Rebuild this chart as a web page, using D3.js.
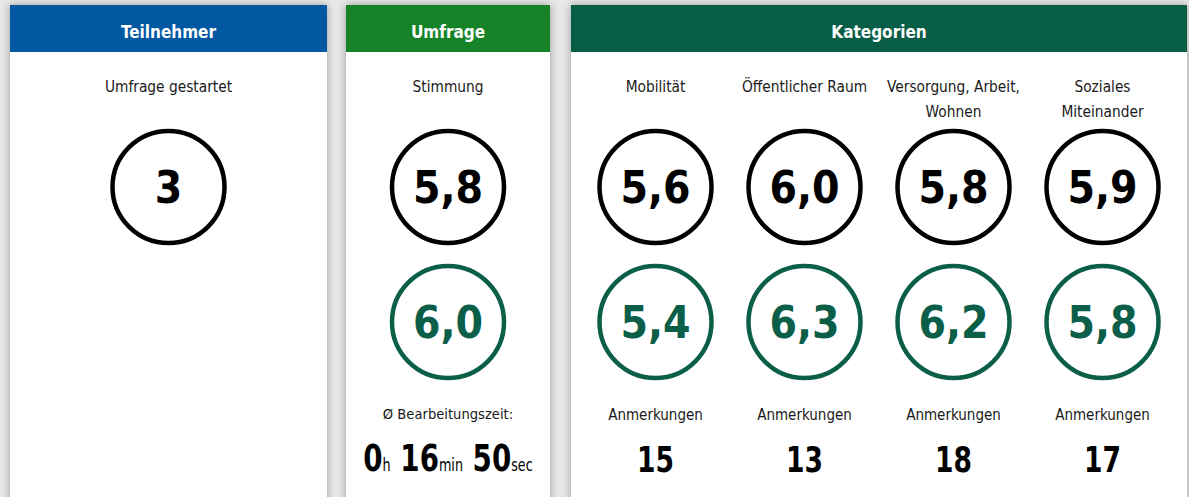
<!DOCTYPE html>
<html>
<head>
<meta charset="utf-8">
<script src="https://cdn.jsdelivr.net/npm/d3@7"></script>
<style>
  html, body { margin: 0; padding: 0; background: #e8e8e8; overflow: hidden; }
  svg { display: block; }
</style>
</head>
<body>
<svg id="chart" width="1189" height="497"></svg>
<script>
// ---------- data ----------
const panelTitles = ["Teilnehmer", "Umfrage", "Kategorien"];
const participantsLabel = "Umfrage gestartet";
const participants = 3;
const moodLabel = "Stimmung";
const moodValues = [5.8, 6.0];
const durationLabel = "Ø Bearbeitungszeit:";
const durationValues = [0, 16, 50];
const durationUnits = ["h", "min", "sec"];
const categories = ["Mobilität", "Öffentlicher Raum", "Versorgung, Arbeit, Wohnen", "Soziales Miteinander"];
const categoryLines = [["Mobilität"], ["Öffentlicher Raum"], ["Versorgung, Arbeit,", "Wohnen"], ["Soziales", "Miteinander"]];
const categoryScoresA = [5.6, 6.0, 5.8, 5.9];
const categoryScoresB = [5.4, 6.3, 6.2, 5.8];
const commentsLabel = "Anmerkungen";
const categoryComments = [15, 13, 18, 17];

// ---------- style ----------
const W = 1189, H = 497;
const headerColors = ["#0258a1", "#168328", "#085d47"];
const greenRing = "#0b5e48";
const labelFont = "'DejaVu Sans Condensed', 'DejaVu Sans', sans-serif";
const numFont = "'DejaVu Sans', sans-serif";

const locale = d3.formatLocale({ decimal: ",", thousands: ".", grouping: [3], currency: ["", "€"] });
const f1 = locale.format(".1f");

const svg = d3.select("#chart");
const defs = svg.append("defs");
const flt = defs.append("filter").attr("id", "shadow").attr("x", "-10%").attr("y", "-10%").attr("width", "120%").attr("height", "130%");
flt.append("feDropShadow").attr("dx", 0).attr("dy", 0).attr("stdDeviation", 4).attr("flood-color", "#000").attr("flood-opacity", 0.35);

// panel layout
const panels = [
  { x: 10, w: 317 },
  { x: 346, w: 204 },
  { x: 571, w: 616 }
];
const panelTop = 5, headerH = 47;

const g = svg.selectAll("g.panel").data(panels).join("g").attr("class", "panel");
g.append("rect")
  .attr("x", d => d.x).attr("y", panelTop).attr("width", d => d.w).attr("height", H + 20)
  .attr("fill", "#fff").attr("filter", "url(#shadow)");
g.append("rect")
  .attr("x", d => d.x).attr("y", panelTop).attr("width", d => d.w).attr("height", headerH)
  .attr("fill", (d, i) => headerColors[i]);
g.append("text")
  .attr("x", d => d.x + d.w / 2).attr("y", panelTop + 33)
  .attr("text-anchor", "middle").attr("fill", "#fff")
  .attr("font-family", labelFont).attr("font-weight", "bold").attr("font-size", 17)
  .text((d, i) => panelTitles[i]);

const R = 56, SW = 4.5;
const rowY = d3.scalePoint().domain(["A", "B"]).range([187, 322]);

// horizontally condensed number text
function narrowText(x, y, sx) {
  return svg.append("g").attr("transform", `translate(${x},${y}) scale(${sx},1)`)
    .append("text").attr("x", 0).attr("y", 0).attr("text-anchor", "middle")
    .attr("font-family", numFont).attr("font-weight", "bold");
}

function ring(cx, cy, value, color, fmt) {
  svg.append("circle").attr("cx", cx).attr("cy", cy).attr("r", R)
    .attr("fill", "none").attr("stroke", color).attr("stroke-width", SW);
  narrowText(cx, cy + 16, 0.9).attr("fill", color).attr("font-size", 44).text(fmt(value));
}
function label(x, y, t, size) {
  svg.append("text").attr("x", x).attr("y", y).attr("text-anchor", "middle")
    .attr("fill", "#1a1a1a").attr("font-family", labelFont).attr("font-size", size || 15.3)
    .text(t);
}

// Panel 1
const c1 = panels[0].x + panels[0].w / 2;
label(c1, 92, participantsLabel);
ring(c1, rowY("A"), participants, "#000", d3.format("d"));

// Panel 2
const c2 = panels[1].x + panels[1].w / 2;
label(c2, 92, moodLabel);
ring(c2, rowY("A"), moodValues[0], "#000", f1);
ring(c2, rowY("B"), moodValues[1], greenRing, f1);
label(c2, 419, durationLabel, 14.6);
const dt = narrowText(c2, 471, 0.75).attr("fill", "#000");
durationValues.forEach((v, i) => {
  dt.append("tspan").attr("font-size", 37).text((i ? " " : "") + v);
  dt.append("tspan").attr("font-size", 17).attr("font-weight", "normal").text(durationUnits[i]);
});

// Panel 3
const p3 = panels[2];
const x = d3.scaleBand().domain(categories).range([p3.x + 10, p3.x + p3.w - 10]);
const cx = c => x(c) + x.bandwidth() / 2;
categories.forEach((c, i) => {
  categoryLines[i].forEach((ln, j) => label(cx(c), 92 + j * 25, ln));
  ring(cx(c), rowY("A"), categoryScoresA[i], "#000", f1);
  ring(cx(c), rowY("B"), categoryScoresB[i], greenRing, f1);
  label(cx(c), 420, commentsLabel, 15);
  narrowText(cx(c), 472, 0.76).attr("fill", "#000").attr("font-size", 35).text(categoryComments[i]);
});
</script>
</body>
</html>
